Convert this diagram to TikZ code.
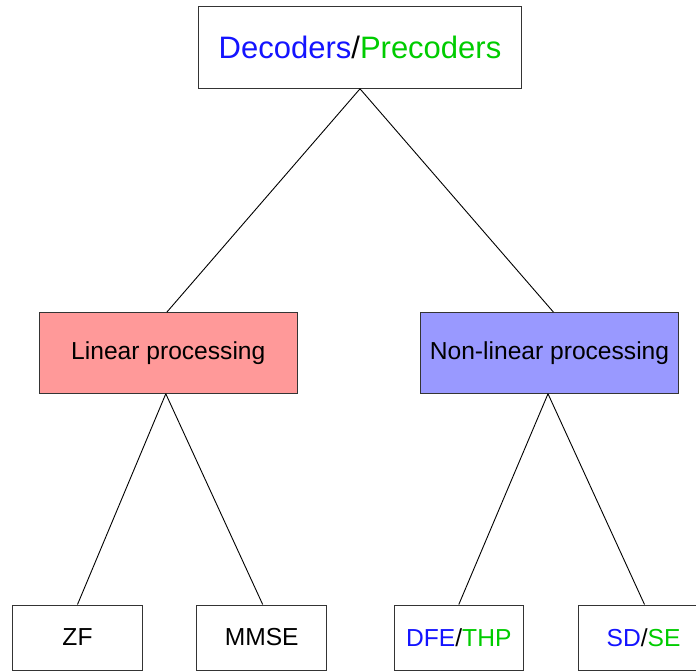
\documentclass[tikz,border=0pt]{standalone}
\usepackage{fontspec}
\setmainfont{Liberation Sans}
\usepackage{tikz}

\definecolor{decblue}{RGB}{20,20,255}
\definecolor{pregreen}{RGB}{0,204,0}
\definecolor{linfill}{RGB}{255,153,153}
\definecolor{nonlinfill}{RGB}{153,153,255}
\definecolor{edgegray}{RGB}{52,52,52}

\tikzset{
  box/.style={draw=edgegray, line width=1pt, rectangle, inner sep=0pt},
  bigbox/.style={box, minimum width=323.4pt, minimum height=81.6pt, font=\fontsize{31}{36}\selectfont},
  midbox/.style={box, minimum width=258pt, minimum height=80.6pt, font=\fontsize{24.6}{29}\selectfont},
  leafbox/.style={box, minimum width=129.5pt, minimum height=65pt, font=\fontsize{24.6}{29}\selectfont},
  link/.style={draw=black, line width=0.9pt}
}

\begin{document}
\begin{tikzpicture}[x=1pt, y=-1pt]
\useasboundingbox (0,0) rectangle (696,671);

\node[bigbox](top) at (360,47.5) {\textcolor{decblue}{Decoders}/\textcolor{pregreen}{Precoders}};

\node[midbox, fill=linfill](lin) at (168.3,353) {Linear processing};
\node[midbox, fill=nonlinfill](nonlin) at (549.5,353) {Non-linear processing};

\node[leafbox](zf) at (77.5,637.5) {ZF};
\node[leafbox](mmse) at (261.7,637.5) {MMSE};
\node[leafbox](dfe) at (458.8,637.5) {\textcolor{decblue}{DFE}/\textcolor{pregreen}{THP}};
\node[leafbox](sd) at (643.5,637.5) {\textcolor{decblue}{SD}/\textcolor{pregreen}{SE}};

\draw[link](top.south) to ([xshift=-1.5pt]lin.north);
\draw[link](top.south) to ([xshift=4pt]nonlin.north);
\draw[link]([xshift=-2.5pt]lin.south) to (zf.north);
\draw[link]([xshift=-2.5pt]lin.south) to ([xshift=1pt]mmse.north);
\draw[link]([xshift=-1.5pt]nonlin.south) to (dfe.north);
\draw[link]([xshift=-1.5pt]nonlin.south) to ([xshift=1pt]sd.north);
\end{tikzpicture}
\end{document}
